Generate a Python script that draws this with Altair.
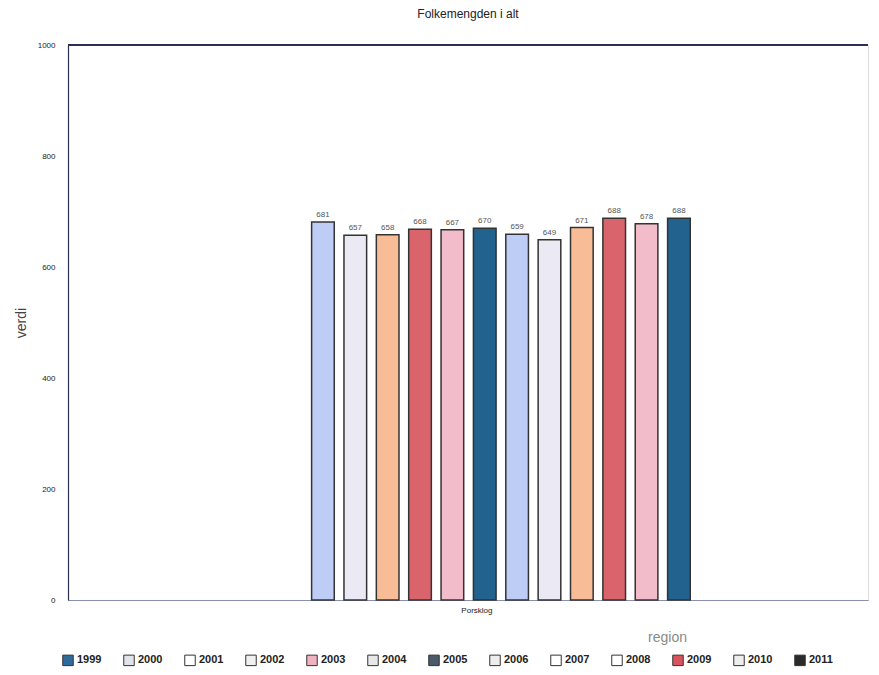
import altair as alt
import pandas as pd

region = "Porsklog"
bar_years = ["2000", "2001", "2002", "2003", "2004", "2005",
             "2006", "2007", "2008", "2009", "2010", "2011"]
bar_values = [681, 657, 658, 668, 667, 670, 659, 649, 671, 688, 678, 688]
bar_colors = ["#bdcdf6", "#ebe9f3", "#f8bd96", "#d9646c", "#f3bccb", "#21628f",
              "#bdcdf6", "#ebe9f3", "#f8bd96", "#d9646c", "#f3bccb", "#21628f"]

legend_years = ["1999", "2000", "2001", "2002", "2003", "2004", "2005",
                "2006", "2007", "2008", "2009", "2010", "2011"]
legend_colors = ["#2f6b9a", "#e2e4ec", "#ffffff", "#f0f0f0", "#efb2c0", "#e8e8e8", "#4a5a6a",
                 "#eeeeee", "#ffffff", "#ffffff", "#d9535e", "#eeeeee", "#2a2a2a"]

y_ticks = [0, 200, 400, 600, 800, 1000]

df = pd.DataFrame({"region": region, "year": bar_years, "value": bar_values})
dleg = pd.DataFrame({"region": region, "lyear": legend_years})

FONT = "Liberation Sans"

x_enc = alt.X("region:N", title="region",
              scale=alt.Scale(paddingInner=0, paddingOuter=0.53, align=0.58),
              axis=alt.Axis(labelAngle=0, ticks=False, labelFontSize=8, labelColor="#222",
                            labelOffset=-24, labelPadding=6, domainColor="#8a8fb0",
                            domainWidth=1.2, titleFontSize=14, titleColor="#8a8a8a",
                            titleFontWeight="normal", titleX=599, titleY=30,
                            titleAlign="center", titleBaseline="top"))
xo = alt.XOffset("year:N", sort=bar_years,
                 scale=alt.Scale(domain=bar_years, paddingInner=0.3, paddingOuter=0.15))
y_enc = alt.Y("value:Q", title="verdi",
              scale=alt.Scale(domain=[0, 1000], nice=False),
              axis=alt.Axis(values=y_ticks, format="d", ticks=False, labelFontSize=8,
                            labelColor="#222", labelPadding=13, domainColor="#2b3050",
                            domainWidth=1.2, grid=False, titleFontSize=14, titleColor="#444",
                            titleFontWeight="normal", titlePadding=9))

bars = alt.Chart(df).mark_bar(stroke="#333333", strokeWidth=1.5).encode(
    x=x_enc, xOffset=xo, y=y_enc,
    color=alt.Color("year:N", scale=alt.Scale(domain=bar_years, range=bar_colors), legend=None),
)

labels = alt.Chart(df).mark_text(dy=-7, fontSize=8, color="#555", font=FONT).encode(
    x=alt.X("region:N"), xOffset=xo, y=alt.Y("value:Q"), text="value:Q"
)

top_rule = alt.Chart(df).mark_rule(color="#2b3050", strokeWidth=1.2).encode(
    y=alt.datum(1000)
)

legend_layer = alt.Chart(dleg).mark_bar(strokeWidth=0).encode(
    x=alt.X("region:N"),
    y=alt.datum(0), y2=alt.datum(0),
    fill=alt.Fill("lyear:N", sort=legend_years,
                  scale=alt.Scale(domain=legend_years, range=legend_colors),
                  legend=alt.Legend(title=None, orient="none", direction="horizontal",
                                    legendX=-6, legendY=609, symbolType="square",
                                    symbolSize=110, symbolStrokeColor="#333",
                                    symbolStrokeWidth=1, labelFontSize=11,
                                    labelFontWeight="bold", labelColor="#222",
                                    labelOffset=3, columnPadding=19, columns=13)),
)

chart = alt.layer(bars, labels, top_rule, legend_layer).resolve_scale(
    color="independent", fill="independent"
).properties(
    width=800, height=555,
    autosize=alt.AutoSizeParams(type="none"),
    padding={"left": 60, "top": 37, "right": 3, "bottom": 67},
    title=alt.Title("Folkemengden i alt", fontSize=12, fontWeight="normal",
                    color="#222", font=FONT, offset=20, anchor="middle"),
).configure_view(stroke=None).configure(font=FONT)

chart.save("out.html", embed_options={"renderer": "svg", "actions": False})
